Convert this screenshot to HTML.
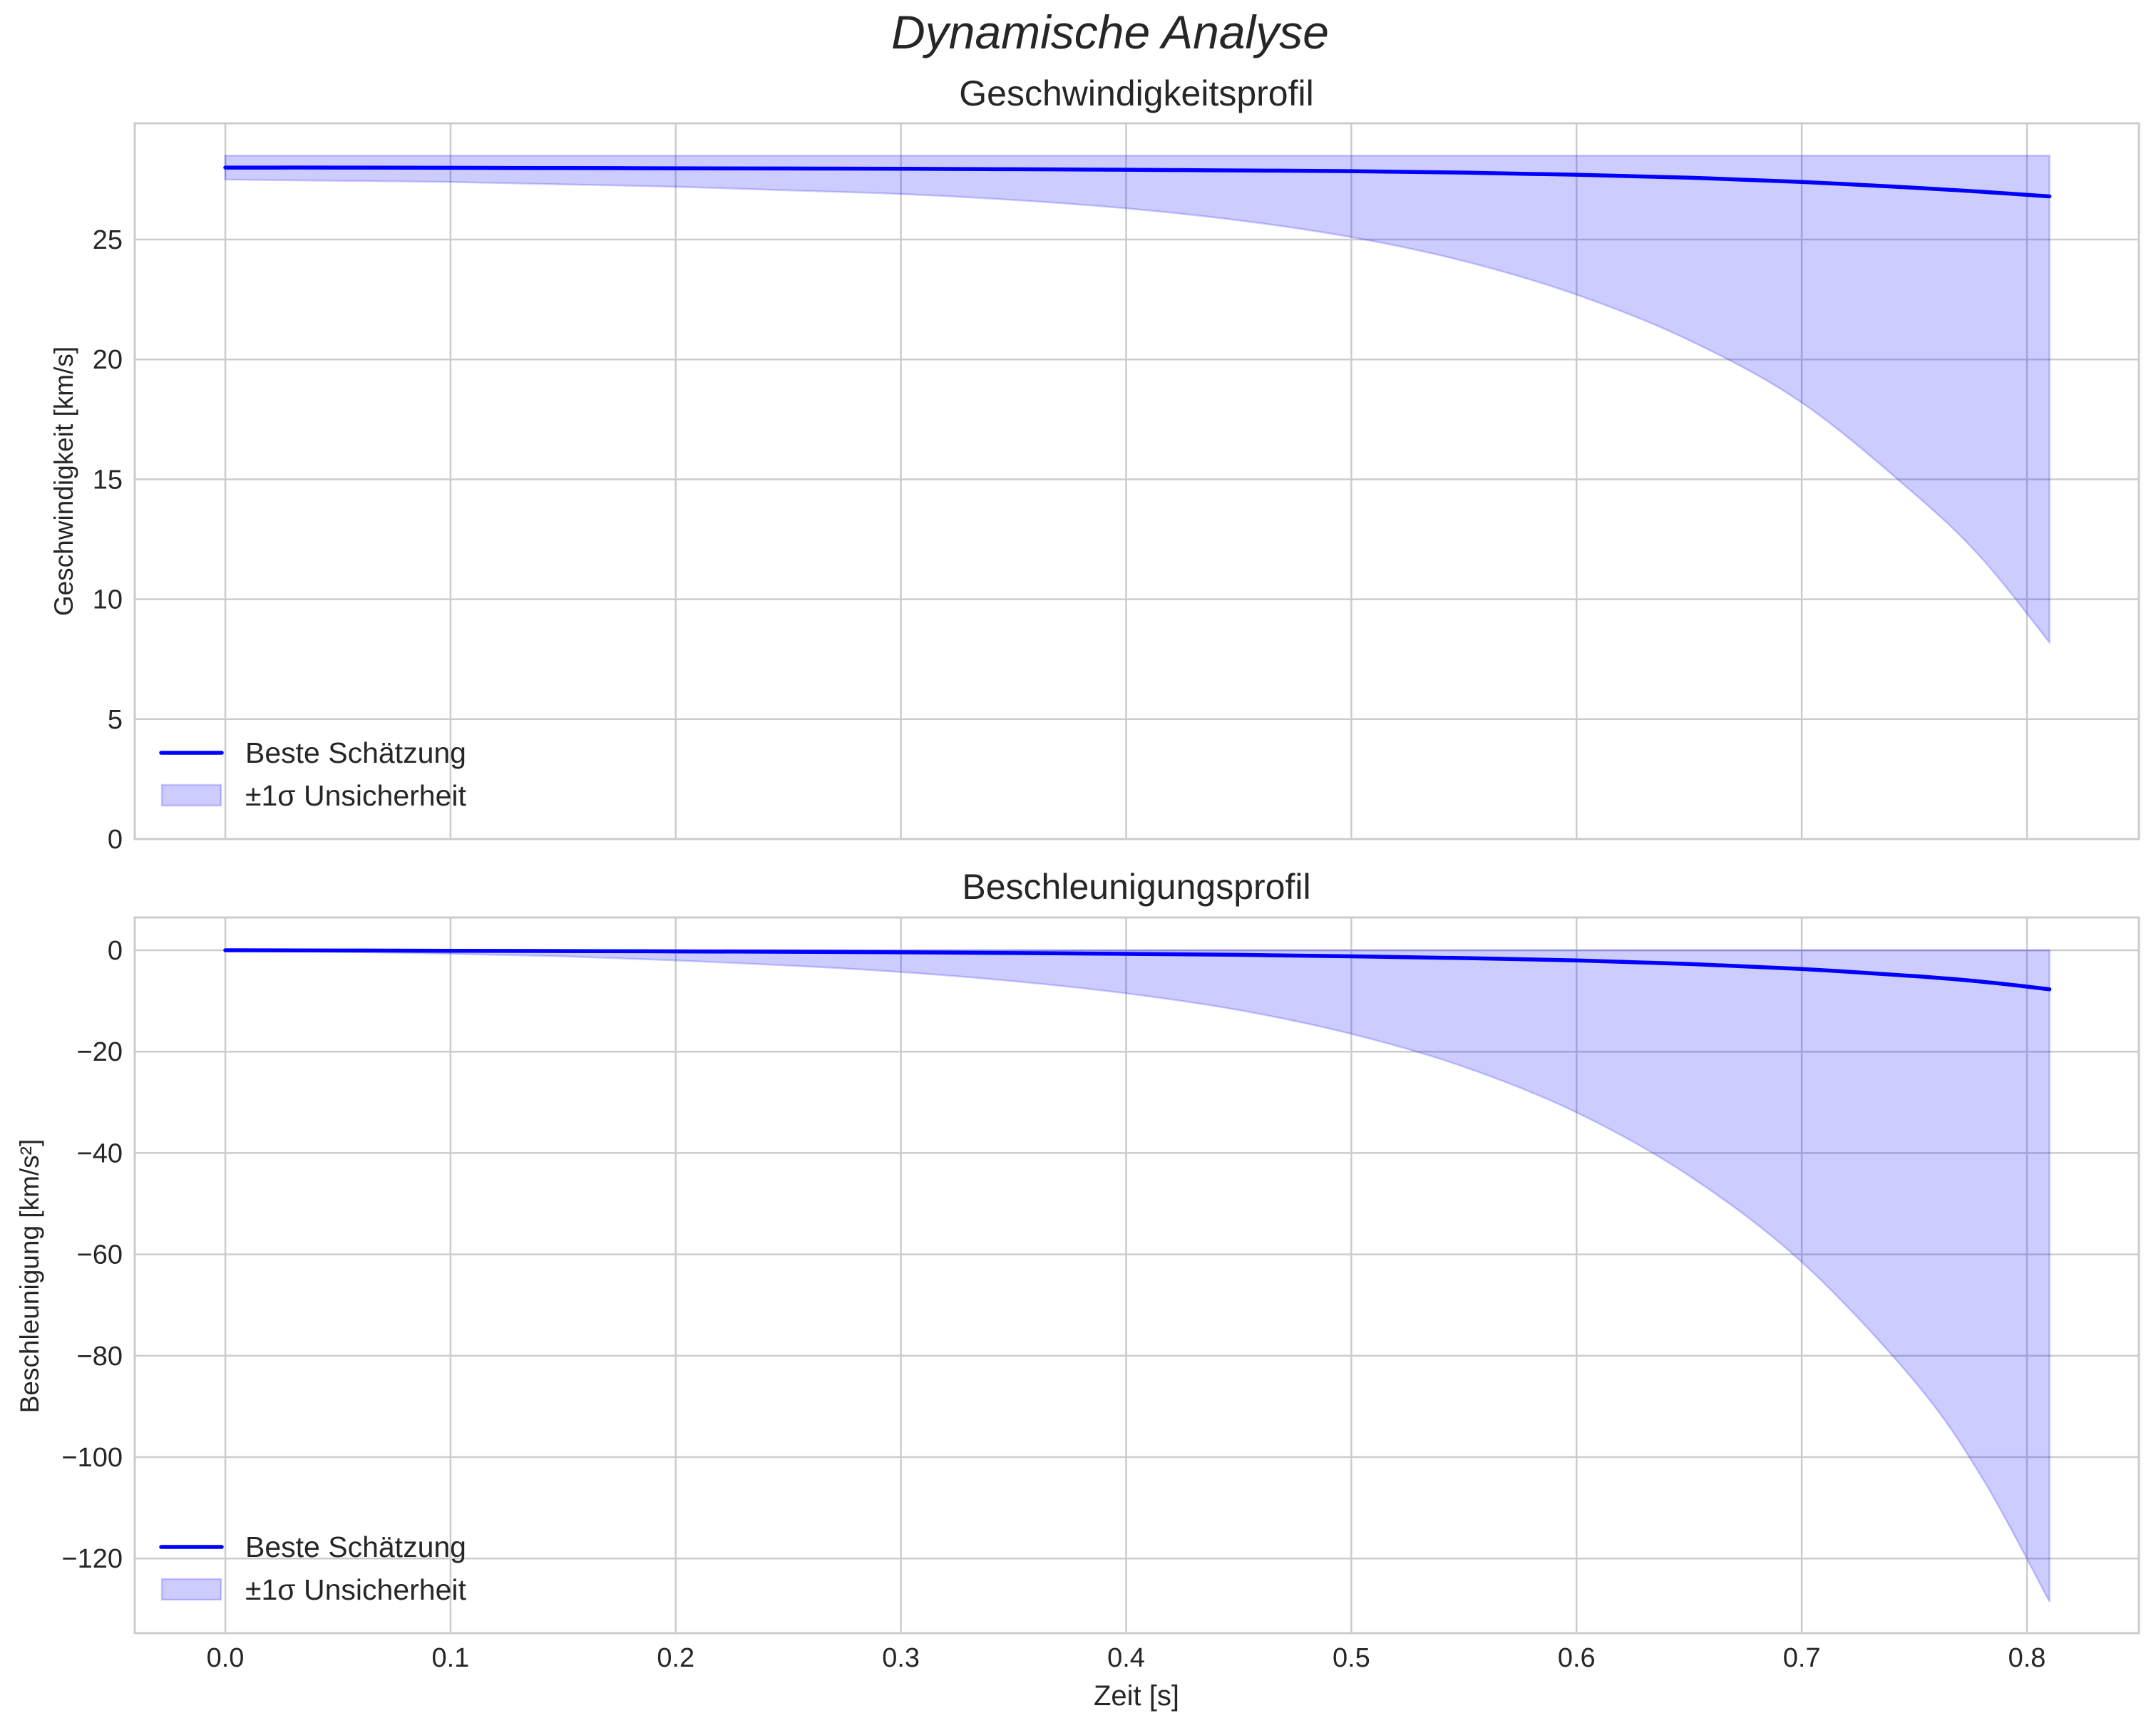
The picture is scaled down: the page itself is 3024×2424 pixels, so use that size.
<!DOCTYPE html>
<html><head><meta charset="utf-8"><style>
html,body{margin:0;padding:0;background:#fff;}
svg{display:block;font-family:"Liberation Sans",sans-serif;}
</style></head><body>
<svg id="fig" width="3024" height="2424" viewBox="0 0 3024 2424" xmlns="http://www.w3.org/2000/svg">
<rect width="3024" height="2424" fill="#fff"/>
<text x="1557" y="68" font-size="66" font-style="italic" text-anchor="middle" fill="#262626">Dynamische Analyse</text>
<text x="1594" y="148" font-size="50" text-anchor="middle" fill="#262626">Geschwindigkeitsprofil</text>
<text x="1594" y="1261" font-size="50" text-anchor="middle" fill="#262626">Beschleunigungsprofil</text>
<text transform="translate(102,675) rotate(-90)" font-size="37" text-anchor="middle" fill="#262626">Geschwindigkeit [km/s]</text>
<text transform="translate(54,1790) rotate(-90)" font-size="37" text-anchor="middle" fill="#262626">Beschleunigung [km/s²]</text>
<text x="1594" y="2392" font-size="40" text-anchor="middle" fill="#262626">Zeit [s]</text>
<g id="p1"></g>
<g id="p2"></g>
</svg>
<script>
const times = [0,0.05,0.1,0.15,0.2,0.25,0.3,0.35,0.4,0.45,0.5,0.55,0.6,0.65,0.7,0.75,0.78,0.81];
const velBest = [28,28,27.99,27.98,27.97,27.96,27.95,27.93,27.91,27.88,27.85,27.79,27.7,27.58,27.4,27.16,26.99,26.8];
const velLower = [27.5,27.45,27.4,27.3,27.2,27.05,26.9,26.65,26.3,25.8,25.1,24.1,22.7,20.8,18.2,14.4,11.7,8.2];
const velUpper = [28.5,28.5,28.5,28.5,28.5,28.5,28.5,28.5,28.5,28.5,28.5,28.5,28.5,28.5,28.5,28.5,28.5,28.5];
const accBest = [0,-0.05,-0.1,-0.15,-0.22,-0.3,-0.4,-0.55,-0.7,-0.9,-1.2,-1.55,-2,-2.7,-3.7,-5.1,-6.2,-7.7];
const accLower = [0,-0.3,-0.7,-1.2,-2,-3,-4.3,-6.1,-8.5,-11.8,-16.5,-23,-32,-44.5,-61.5,-85,-104,-128.5];
const accUpper = [0,0,0,0,0,0,0,0,0,0,0,0,0,0,0,0,0,0];
const xTicks = [0,0.1,0.2,0.3,0.4,0.5,0.6,0.7,0.8];
const velTicks = [0,5,10,15,20,25];
const accTicks = [0,-20,-40,-60,-80,-100,-120];

const NS='http://www.w3.org/2000/svg';
const L=189,R=3000;
const xs=t=>316+t*3158.75;
function mk(g,tag,attrs){const e=document.createElementNS(NS,tag);for(const k in attrs)e.setAttribute(k,attrs[k]);g.appendChild(e);return e;}
function fmt(v){return v<0?'\u2212'+Math.abs(v):String(v);}
function smooth(pts,start){
  let d=start?'M'+pts[0][0]+','+pts[0][1]:'L'+pts[0][0]+','+pts[0][1];
  for(let i=0;i<pts.length-1;i++){
    const p0=pts[Math.max(i-1,0)],p1=pts[i],p2=pts[i+1],p3=pts[Math.min(i+2,pts.length-1)];
    const c1=[p1[0]+(p2[0]-p0[0])/6,p1[1]+(p2[1]-p0[1])/6];
    const c2=[p2[0]-(p3[0]-p1[0])/6,p2[1]-(p3[1]-p1[1])/6];
    d+='C'+c1[0]+','+c1[1]+' '+c2[0]+','+c2[1]+' '+p2[0]+','+p2[1];
  }
  return d;
}
function panel(g,top,bot,ys,yt,best,lo,hi,showX,pfx){
  for(const t of yt){const y=ys(t);
    const l=mk(g,'line',{x1:L,x2:R,y1:y,y2:y,stroke:'#cccccc','stroke-width':2.5});
    
    
    const tx=mk(g,'text',{x:172,y:y+13,'font-size':38,'text-anchor':'end',fill:'#262626'});tx.textContent=fmt(t);
    
    }
  for(const t of xTicks){const x=xs(t);
    const l=mk(g,'line',{x1:x,x2:x,y1:top,y2:bot,stroke:'#cccccc','stroke-width':2.5});
    
    
    if(showX){const tx=mk(g,'text',{x:x,y:bot+47,'font-size':38,'text-anchor':'middle',fill:'#262626'});tx.textContent=t.toFixed(1);
      
      }}
  const up=times.map((t,i)=>[xs(t),ys(hi[i])]);
  const dn=times.map((t,i)=>[xs(t),ys(lo[i])]).reverse();
  const d=smooth(up,true)+smooth(dn,false)+'Z';
  const band=mk(g,'path',{d:d,fill:'rgba(0,0,255,0.2)',stroke:'rgba(0,0,255,0.2)','stroke-width':2.5});
  
  
  const line=mk(g,'path',{d:smooth(times.map((t,i)=>[xs(t),ys(best[i])]),true),fill:'none',stroke:'#0000ff','stroke-width':5.5,'stroke-linecap':'round','stroke-linejoin':'round'});
  
  
  const fr=mk(g,'rect',{x:L,y:top,width:R-L,height:bot-top,fill:'none',stroke:'#cccccc','stroke-width':3});
  
  
  const ly=bot-121;
  const lg=mk(g,'g',{});
  
  
  mk(lg,'line',{x1:226,x2:311,y1:ly,y2:ly,stroke:'#0000ff','stroke-width':5.5,'stroke-linecap':'round'});
  const t1=mk(lg,'text',{x:344,y:ly+14,'font-size':41,fill:'#262626'});t1.textContent='Beste Schätzung';
  
  
  mk(lg,'rect',{x:227,y:ly+45,width:83,height:29,fill:'rgba(0,0,255,0.2)',stroke:'rgba(0,0,255,0.2)','stroke-width':2.5});
  const t2=mk(lg,'text',{x:344,y:ly+74,'font-size':41,fill:'#262626'});t2.textContent='±1σ Unsicherheit';
  
  
}
panel(document.getElementById('p1'),173,1177,v=>1177-v*33.64,velTicks,velBest,velLower,velUpper,false,'velocity');
panel(document.getElementById('p2'),1287,2291,v=>1333-v*7.11,accTicks,accBest,accLower,accUpper,true,'acceleration');
</script>
</body></html>
